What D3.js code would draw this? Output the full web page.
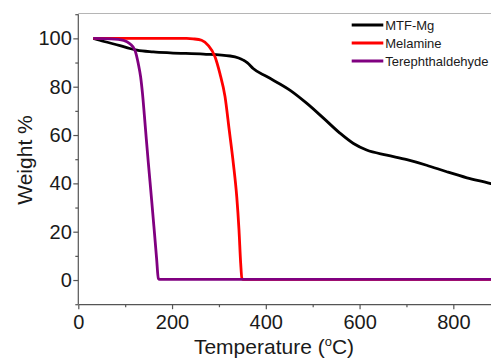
<!DOCTYPE html>
<html>
<head>
<meta charset="utf-8">
<script src="https://cdn.jsdelivr.net/npm/d3@7"></script>
<style>
  body { margin: 0; background: #fff; }
  svg { display: block; font-family: "Liberation Sans", Arial, sans-serif; }
</style>
</head>
<body>
<svg width="491" height="358"></svg>
<script>
// TGA curves: [temperature °C, weight %]
var mtfMg = [
  [32, 100], [55, 98.7], [89, 97.0], [110, 95.8], [125, 95.1], [160, 94.4],
  [196, 94.0], [267, 93.5], [324, 92.7], [342, 91.9], [352, 91.0], [358, 90.3],
  [363, 89.5], [373, 87.5], [402, 84.2], [452, 78.5], [487, 73.2], [523, 67],
  [558, 60.8], [587, 56.5], [615, 53.8], [658, 51.7], [701, 49.8], [743, 47.5],
  [786, 44.8], [829, 42.3], [878, 40], [900, 38.8]
];
var melamine = [
  [32, 100], [150, 100], [231, 100], [245, 99.8], [263, 99.2], [277, 97.1],
  [291.6, 92.4], [302, 85.5], [313, 75.9], [322, 62], [330.7, 48.3], [338, 34.5],
  [342.8, 20.7], [346.4, 6.9], [349, 0.7], [352, 0.3], [400, 0.3], [600, 0.3], [900, 0.3]
];
var terephthaldehyde = [
  [32, 100], [70, 99.8], [96.6, 99.2], [110, 97.8], [121, 95], [128, 89.5],
  [133, 84], [137, 77], [141, 68], [145, 58.5], [149.4, 48.5], [156.5, 33],
  [162, 20.5], [167, 9], [170.7, 0.7], [173.5, 0.3], [300, 0.3], [600, 0.3], [900, 0.3]
];

var seriesNames = ["MTF-Mg", "Melamine", "Terephthaldehyde"];
var seriesColors = ["#000000", "#ff0000", "#800080"];
var seriesData = [mtfMg, melamine, terephthaldehyde];

var xMajor = [0, 200, 400, 600, 800];
var xMinor = [100, 300, 500, 700, 900];
var yMajor = [0, 20, 40, 60, 80, 100];
var yMinor = [-10, 10, 30, 50, 70, 90, 110];

var svg = d3.select("svg");

var x = d3.scaleLinear().domain([0, 900]).range([78.3, 500.2]);
var y = d3.scaleLinear().domain([-10, 110]).range([304.2, 14.2]);

// top frame line
svg.append("line")
  .attr("x1", x(0)).attr("x2", 491)
  .attr("y1", 13.5).attr("y2", 13.5)
  .attr("stroke", "#b5b5b5").attr("stroke-width", 1);

var line = d3.line()
  .x(d => x(d[0]))
  .y(d => y(d[1]))
  .curve(d3.curveMonotoneX);

svg.append("g")
  .selectAll("path")
  .data(seriesData)
  .enter()
  .append("path")
    .attr("d", line)
    .attr("fill", "none")
    .attr("stroke", (d, i) => seriesColors[i])
    .attr("stroke-width", 2.8)
    .attr("stroke-linejoin", "round");

// axes
var xAxis = svg.append("g")
  .attr("transform", "translate(0," + y(-10) + ")")
  .call(d3.axisBottom(x).tickValues(xMajor).tickSize(5).tickSizeOuter(0).tickPadding(6));

var yAxis = svg.append("g")
  .attr("transform", "translate(" + x(0) + ",0)")
  .call(d3.axisLeft(y).tickValues(yMajor).tickSize(5).tickSizeOuter(0).tickPadding(1.5));

[xAxis, yAxis].forEach(function(g){
  g.select(".domain").attr("stroke", "#555").attr("stroke-width", 1.2);
  g.selectAll(".tick line").attr("stroke", "#555").attr("stroke-width", 1.2);
  g.selectAll(".tick text").attr("fill", "#1a1a1a").style("font-size", "20px");
});
yAxis.select(".domain").attr("d", "M0," + y(110) + "V" + y(-10));

// minor ticks
svg.append("g")
  .attr("transform", "translate(0," + y(-10) + ")")
  .call(d3.axisBottom(x).tickValues(xMinor).tickSize(3).tickSizeOuter(0).tickFormat(""))
  .call(g => g.select(".domain").remove())
  .selectAll("line").attr("stroke", "#555").attr("stroke-width", 1.2);

svg.append("g")
  .attr("transform", "translate(" + x(0) + ",0)")
  .call(d3.axisLeft(y).tickValues(yMinor).tickSize(3).tickSizeOuter(0).tickFormat(""))
  .call(g => g.select(".domain").remove())
  .selectAll("line").attr("stroke", "#555").attr("stroke-width", 1.2);

// axis titles
var xTitle = svg.append("text")
  .attr("x", 274).attr("y", 354)
  .attr("text-anchor", "middle")
  .attr("fill", "#1a1a1a")
  .style("font-size", "21px");
xTitle.append("tspan").text("Temperature (");
xTitle.append("tspan").attr("dy", -8).style("font-size", "13px").text("o");
xTitle.append("tspan").attr("dy", 8).text("C)");

svg.append("text")
  .attr("transform", "translate(31.5,160) rotate(-90)")
  .attr("text-anchor", "middle")
  .attr("fill", "#1a1a1a")
  .style("font-size", "21px")
  .text("Weight %");

// legend
var legend = svg.append("g")
  .selectAll("g")
  .data(seriesNames)
  .enter()
  .append("g")
    .attr("transform", (d, i) => "translate(351.7," + (25 + i * 18) + ")");

legend.append("line")
  .attr("x1", 0).attr("x2", 31.6)
  .attr("stroke", (d, i) => seriesColors[i])
  .attr("stroke-width", 3);

legend.append("text")
  .attr("x", 33.5).attr("dy", "0.35em")
  .attr("fill", "#1a1a1a")
  .style("font-size", "13px")
  .text(d => d);
</script>
</body>
</html>
